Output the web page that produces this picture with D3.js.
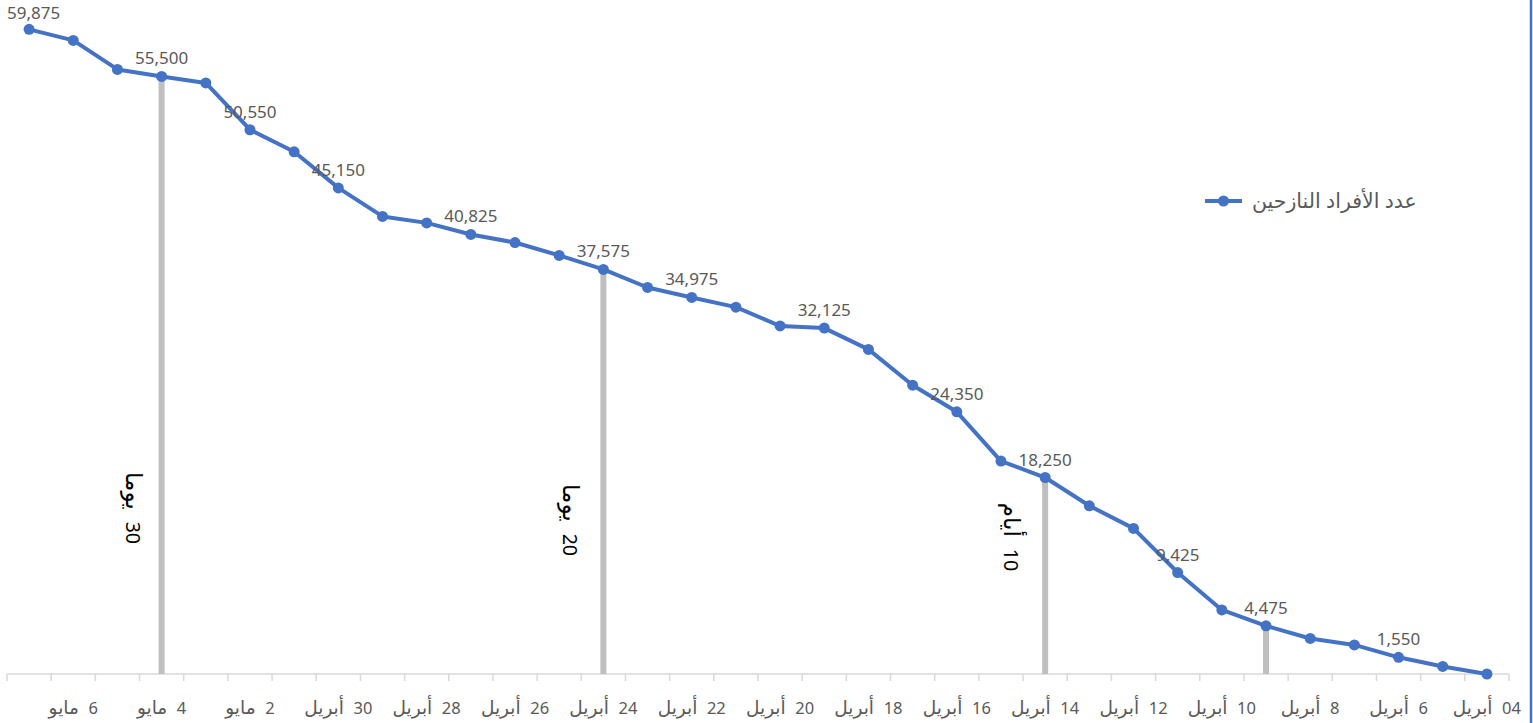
<!DOCTYPE html>
<html>
<head>
<meta charset="utf-8">
<script src="https://cdn.jsdelivr.net/npm/d3@7"></script>
<style>
  html, body { margin: 0; padding: 0; background: #ffffff; }
  svg { display: block; font-family: "Noto Sans", "Open Sans", "DejaVu Sans", sans-serif; }
</style>
</head>
<body>
<svg id="chart" width="1533" height="723"></svg>
<script>
// ---- data (chronological: 4 April -> 7 May) ----
const categories = [
  "04 أبريل","5 أبريل","6 أبريل","7 أبريل","8 أبريل","9 أبريل","10 أبريل","11 أبريل",
  "12 أبريل","13 أبريل","14 أبريل","15 أبريل","16 أبريل","17 أبريل","18 أبريل","19 أبريل",
  "20 أبريل","21 أبريل","22 أبريل","23 أبريل","24 أبريل","25 أبريل","26 أبريل","27 أبريل",
  "28 أبريل","29 أبريل","30 أبريل","1 مايو","2 مايو","3 مايو","4 مايو","5 مايو","6 مايو","7 مايو"
];
const displaced = [
  0, 700, 1550, 2700, 3300, 4475, 5950, 9425,
  13525, 15625, 18250, 19775, 24350, 26825, 30150, 32125,
  32325, 34075, 34975, 35900, 37575, 38875, 40075, 40825,
  41900, 42500, 45150, 48500, 50550, 54900, 55500, 56150, 58850, 59875
];
const tickLabels = [
  "04 أبريل","6 أبريل","8 أبريل","10 أبريل","12 أبريل","14 أبريل","16 أبريل","18 أبريل",
  "20 أبريل","22 أبريل","24 أبريل","26 أبريل","28 أبريل","30 أبريل","2 مايو","4 مايو","6 مايو"
];
const labeledDates = [
  "6 أبريل","9 أبريل","11 أبريل","14 أبريل","16 أبريل","19 أبريل","22 أبريل",
  "24 أبريل","27 أبريل","30 أبريل","2 مايو","4 مايو","7 مايو"
];
const dropDates = ["9 أبريل","14 أبريل","24 أبريل","4 مايو"];
const annotationDates = ["14 أبريل","24 أبريل","4 مايو"];
const annotationTexts = ["10 أيام","20 يوما","30 يوما"];
const seriesName = "عدد الأفراد النازحين";
const yMax = 60000;

// ---- layout ----
const svg = d3.select("#chart");
const plot = { left: 7, right: 1509, top: 28, bottom: 674 };
const blue = "#4472C4";

const x = d3.scaleBand().domain(categories).range([plot.right, plot.left]).padding(0);
const y = d3.scaleLinear().domain([0, yMax]).range([plot.bottom, plot.top]);
const cx = d => x(d) + x.bandwidth() / 2;
const valueOf = d => displaced[categories.indexOf(d)];

// split "NN word" into digit part and Arabic part, rendered as tspans
function mixedText(sel, digitSize, arabicSize) {
  sel.each(function(d) {
    const t = d3.select(this);
    const s = typeof d === "string" ? d : "";
    const sp = s.indexOf(" ");
    t.append("tspan").attr("font-size", digitSize).text(s.slice(0, sp));
    t.append("tspan").attr("font-size", arabicSize).style("white-space", "pre").text("  " + s.slice(sp + 1));
  });
}

// axis line + ticks between categories
const axisG = svg.append("g");
axisG.append("line")
  .attr("x1", plot.left).attr("x2", plot.right)
  .attr("y1", plot.bottom).attr("y2", plot.bottom)
  .attr("stroke", "#d9d9d9").attr("stroke-width", 1.5);
axisG.selectAll("line.tick")
  .data(categories.map(c => x(c) + x.bandwidth()).concat([plot.left]))
  .join("line").attr("class", "tick")
  .attr("x1", d => d).attr("x2", d => d)
  .attr("y1", plot.bottom).attr("y2", plot.bottom + 7)
  .attr("stroke", "#d9d9d9").attr("stroke-width", 1.5);
axisG.selectAll("text.tl")
  .data(tickLabels)
  .join("text").attr("class", "tl")
  .attr("x", d => cx(d)).attr("y", plot.bottom + 40)
  .attr("text-anchor", "middle")
  .style("direction", "rtl")
  .style("white-space", "pre")
  .attr("fill", "#595959")
  .call(mixedText, 16.5, 18.5);

// drop lines
svg.append("g").selectAll("line")
  .data(dropDates)
  .join("line")
  .attr("x1", d => cx(d)).attr("x2", d => cx(d))
  .attr("y1", d => y(valueOf(d))).attr("y2", plot.bottom)
  .attr("stroke", "#bfbfbf").attr("stroke-width", 6);

// vertical annotations
const annOffsets = [-41, -40, -36];
const annY = [537, 520, 508];
svg.append("g").selectAll("text")
  .data(annotationTexts)
  .join("text")
  .attr("transform", (d, i) => `translate(${cx(annotationDates[i]) + annOffsets[i]},${annY[i]}) rotate(90)`)
  .attr("text-anchor", "middle")
  .style("direction", "rtl")
  .style("white-space", "pre")
  .attr("fill", "#000000")
  .call(mixedText, 19.5, 23);

// line
const line = d3.line().x(d => cx(d)).y(d => y(valueOf(d)));
svg.append("path")
  .datum(categories)
  .attr("d", line)
  .attr("fill", "none").attr("stroke", blue)
  .attr("stroke-width", 4).attr("stroke-linejoin", "round");

svg.append("g").selectAll("circle")
  .data(categories)
  .join("circle")
  .attr("cx", d => cx(d)).attr("cy", d => y(valueOf(d)))
  .attr("r", 5.5).attr("fill", blue);

// data labels (kept inside the chart edges)
svg.append("g").selectAll("text")
  .data(labeledDates)
  .join("text")
  .attr("y", d => Math.max(y(valueOf(d)) - 12, 19))
  .attr("text-anchor", "middle")
  .attr("font-size", 17).attr("fill", "#595959")
  .text(d => d3.format(",")(valueOf(d)))
  .attr("x", function(d) {
    const w = this.getComputedTextLength();
    return Math.max(cx(d), plot.left + w / 2);
  });

// legend
const lg = svg.append("g");
lg.append("line").attr("x1", 1205).attr("x2", 1242).attr("y1", 201).attr("y2", 201)
  .attr("stroke", blue).attr("stroke-width", 4);
lg.append("circle").attr("cx", 1223.5).attr("cy", 201).attr("r", 5.5).attr("fill", blue);
lg.append("text").attr("x", 1252).attr("y", 208)
  .attr("text-anchor", "start")
  .attr("font-size", 20.5).attr("fill", "#595959")
  .text(seriesName);

// right edge border (selection frame)
svg.append("line").attr("x1", 1531).attr("x2", 1531).attr("y1", 0).attr("y2", 723)
  .attr("stroke", blue).attr("stroke-width", 2.5);
</script>
</body>
</html>
